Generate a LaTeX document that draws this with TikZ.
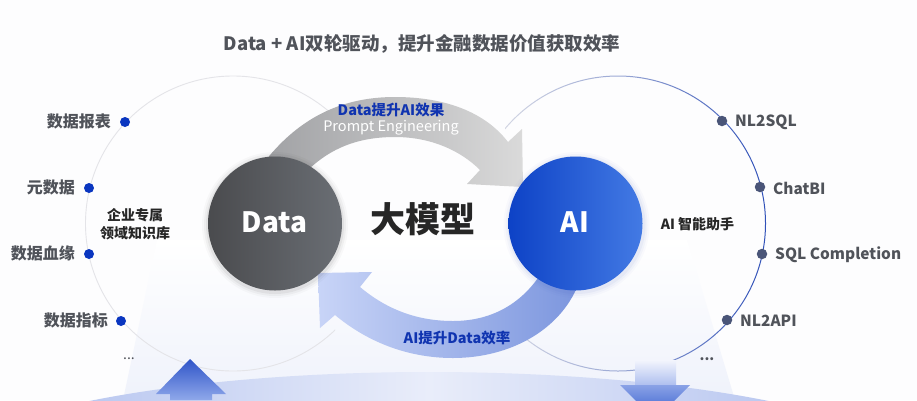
\documentclass[tikz,border=0pt]{standalone}
\usepackage{fontspec}
\setmainfont{Noto Sans CJK SC}
\usepackage{tikz}
\usetikzlibrary{calc,positioning}
\definecolor{pagebg}{HTML}{FDFDFE}
\definecolor{ringgray}{HTML}{E4E4E8}
\definecolor{ringblue}{HTML}{2F50B8}
\definecolor{dotblue}{HTML}{0A36C0}
\definecolor{dotslate}{HTML}{4A5578}
\definecolor{labelgray}{HTML}{50535A}
\definecolor{capblue}{HTML}{1034B0}
\definecolor{lightfloor}{HTML}{EFF2FB}
\definecolor{domeedge}{HTML}{A6B8EC}
\definecolor{domemid}{HTML}{E9EDFA}
\definecolor{bandgrayl}{HTML}{A0A1A4}
\definecolor{bandgrayr}{HTML}{DADADA}
\definecolor{bandbluel}{HTML}{C8D4F7}
\definecolor{bandbluer}{HTML}{7C96DE}
\definecolor{upperblue}{HTML}{2F54C8}
\definecolor{lowerblue}{HTML}{8FA8EA}
\definecolor{stemtop}{HTML}{F3F5FD}
\definecolor{stemlow}{HTML}{AEBFEF}
\definecolor{headtop}{HTML}{8AA2E6}
\definecolor{headlow}{HTML}{2F58CC}
\definecolor{datal}{HTML}{4A4B4E}
\definecolor{datar}{HTML}{6A6E74}
\definecolor{ail}{HTML}{0D42C6}
\definecolor{air}{HTML}{437AE4}

\begin{document}
\begin{tikzpicture}[x=1pt, y=-1pt]
          \tikzstyle{bluedot} = [fill=dotblue, circle, inner sep=0pt, minimum size=10pt]
          \tikzstyle{slatedot} = [fill=dotslate, circle, inner sep=0pt, minimum size=10.5pt]
          \tikzstyle{sidelabel} = [text=labelgray, font=\fontsize{16}{18}\selectfont\bfseries, inner sep=0pt]
          \tikzstyle{latinlabel} = [text=labelgray, font=\fontsize{15.4}{18}\selectfont\bfseries, inner sep=0pt]
          \tikzstyle{innerlabel} = [text=black!85, font=\fontsize{14}{18}\selectfont\bfseries, inner sep=0pt, align=center]
          \tikzstyle{biglabel} = [text=white, font=\fontsize{28}{30}\selectfont\bfseries, inner sep=0pt]
          \tikzstyle{caption} = [text=capblue, font=\fontsize{14.5}{16}\selectfont\bfseries, inner sep=0pt]
          \useasboundingbox (0,0) rectangle (917,400);
          \begin{scope}
            \clip (0,0) rectangle (917,400);
            \fill[pagebg] (0,0) rectangle (917,400);

            % back light
            \shade[top color=white, bottom color=lightfloor] (157,240) -- (687,240) -- (735,400) -- (123,400) -- cycle;
            \shade[left color=domeedge, right color=domeedge, middle color=domemid] (429,481) ellipse [x radius=500, y radius=109];

            % rings
            \begin{scope}
              \clip (0,0) rectangle (335,400);
              \draw[ringgray, line width=0.9pt] (233,223.5) circle [radius=147.5];
            \end{scope}
            \begin{scope}
              \clip (505,0) rectangle (917,400);
              \shade[left color=ringgray, right color=ringblue, middle color=ringgray!60!ringblue, even odd rule]
                (618,223.5) circle [radius=148] (618,223.5) circle [radius=147];
            \end{scope}

            % upper band
            \shade[left color=bandgrayl, right color=bandgrayr]
              (262,165) .. controls (300,115) and (345,97) .. (395,97)
              .. controls (445,97) and (485,112) .. (508,142)
              -- (522,129) -- (523,187) -- (467,184) -- (480,170)
              .. controls (460,150) and (430,137) .. (395,137)
              .. controls (355,137) and (330,150) .. (310,168) -- cycle;

            % lower band
            \shade[left color=bandbluel, right color=bandbluer]
              (578,285) .. controls (560,330) and (510,358) .. (453,358)
              .. controls (405,358) and (365,340) .. (335,315)
              -- (320,328) -- (318,273) -- (372,272) -- (360,287)
              .. controls (385,308) and (415,321) .. (453,321)
              .. controls (490,321) and (520,305) .. (540,275) -- cycle;

            % arrows below
            \shade[top color=upperblue, bottom color=lowerblue]
              (190,359) -- (226,394) -- (212,394) -- (212,400) -- (170,400) -- (170,394) -- (156,394) -- cycle;
            \shade[top color=stemtop, bottom color=stemlow]
              (635,360) -- (676,360) -- (676,385) -- (635,385) -- cycle;
            \shade[top color=headtop, bottom color=headlow]
              (620,385) -- (690,385) -- (655,420) -- cycle;

            % soft edge of the discs
            \foreach \r/\o in {73/0.025, 71/0.035, 69/0.05}{
              \fill[black, opacity=\o] (275,225) circle [radius=\r];
              \fill[ringblue, opacity=\o] (576.5,225) circle [radius=\r];
            }
          \end{scope}

          \shade[left color=datal, right color=datar] (275,223.5) circle [radius=67];
          \shade[left color=ail, right color=air] (575.5,223.5) circle [radius=67];

          \node[biglabel] (data) at (274.5,222.5) {Data};
          \node[biglabel] (ai) at (575,222.5) {AI};
          \node[text=black!85, font=\fontsize{35}{36}\selectfont\bfseries, inner sep=0pt] (model) at (423,219) {大模型};

          \node[text=labelgray, font=\fontsize{18.5}{20}\selectfont\bfseries, inner sep=0pt] (title) at (422,43.5) {Data + AI双轮驱动，提升金融数据价值获取效率};

          \node[caption] (upcap) at (391,110) {Data提升AI效果};
          \node[text=white, font=\fontsize{14.5}{16}\selectfont, inner sep=0pt] (prompt) at (391,128) {Prompt Engineering};
          \node[caption] (lowcap) at (457,338) {AI提升Data效率};

          \node[innerlabel] (kb) at (135,224) {企业专属\\领域知识库};
          \node[innerlabel] (helper) at (697.5,224.5) {AI 智能助手};

          \node[bluedot] (d1) at (125,122) {};
          \node[bluedot] (d2) at (89,188) {};
          \node[bluedot] (d3) at (89,254) {};
          \node[bluedot] (d4) at (121,321) {};

          \node[slatedot] (s1) at (722,121) {};
          \node[slatedot] (s2) at (760,187) {};
          \node[slatedot] (s3) at (762,254) {};
          \node[slatedot] (s4) at (727,320) {};

          \node[sidelabel, anchor=east] (l1) at (111,121.5) {数据报表};
          \node[sidelabel, anchor=east] (l2) at (75,187.5) {元数据};
          \node[sidelabel, anchor=east] (l3) at (75,253.5) {数据血缘};
          \node[sidelabel, anchor=east] (l4) at (108,320.5) {数据指标};
          \node[text=labelgray, inner sep=0pt, font=\fontsize{14}{14}\selectfont] (ldots) at (129,359) {...};

          \node[latinlabel, anchor=west] (r1) at (735,122) {NL2SQL};
          \node[latinlabel, anchor=west] (r2) at (773,188) {ChatBI};
          \node[latinlabel, anchor=west] (r3) at (775,255) {SQL Completion};
          \node[latinlabel, anchor=west] (r4) at (740,321) {NL2API};
          \node[text=labelgray, inner sep=0pt, font=\fontsize{14}{14}\selectfont\bfseries] (rdots) at (707,359) {...};
        \end{tikzpicture}
\end{document}
